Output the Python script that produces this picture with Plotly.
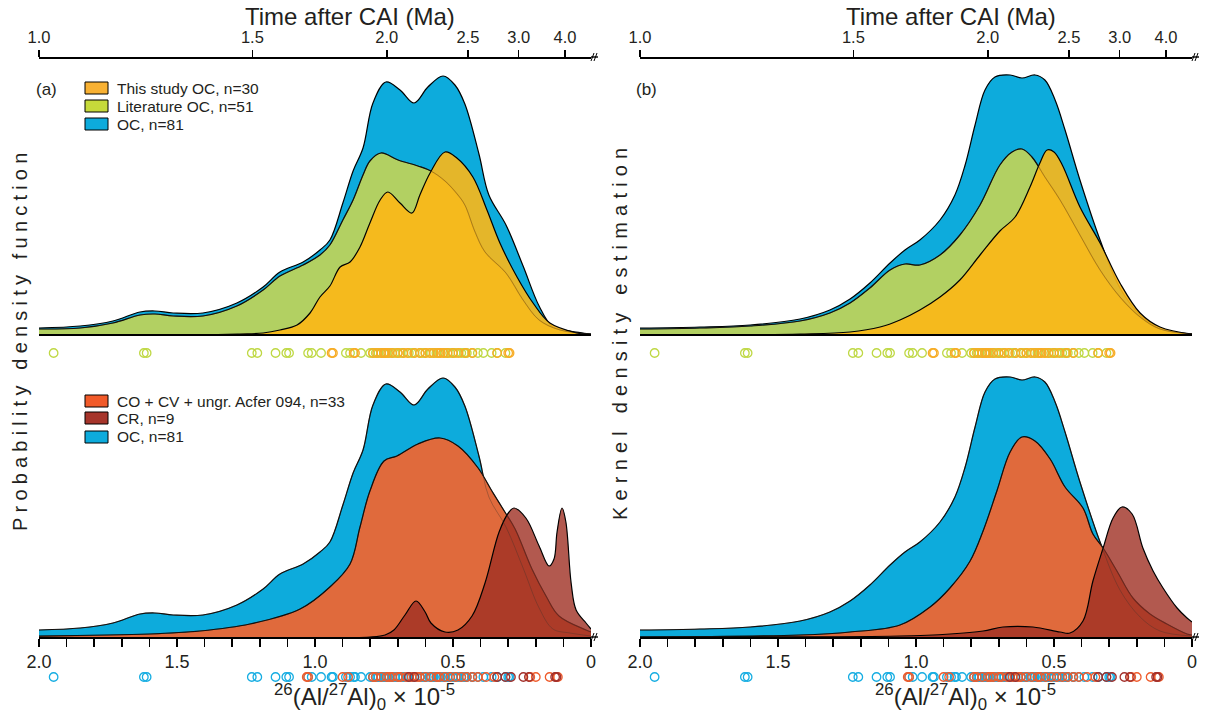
import plotly.graph_objects as go

W, H = 1206, 720

# ---------------- data (x = (26Al/27Al)0 x 1e-5, y = relative density, arbitrary units) ----------------
# (a) probability density functions
pdfA_oc_x = [2.000, 1.851, 1.732, 1.634, 1.580, 1.514, 1.406, 1.283, 1.188, 1.127, 1.043, 0.982, 0.946, 0.899,
             0.862, 0.826, 0.790, 0.743, 0.692, 0.641, 0.591, 0.536, 0.493, 0.457, 0.406, 0.370, 0.308, 0.246,
             0.188, 0.138, 0.076, 0.000]
pdfA_oc_y = [7, 9, 14, 23, 24, 22, 22, 32, 48, 63, 73, 85, 95, 132, 164, 187, 232, 253, 245, 232, 248, 259, 250,
             231, 181, 140, 110, 69, 29, 8, 4, 1]

pdfA_lit_x = [2.000, 1.851, 1.732, 1.634, 1.580, 1.514, 1.406, 1.283, 1.188, 1.127, 1.043, 0.982, 0.946, 0.899,
              0.862, 0.826, 0.801, 0.761, 0.699, 0.627, 0.580, 0.529, 0.482, 0.457, 0.420, 0.384, 0.308, 0.246,
              0.188, 0.112, 0.000]
pdfA_lit_y = [6, 7, 12, 20, 21, 19, 19, 29, 45, 59, 70, 80, 90, 115, 135, 160, 174, 182, 175, 169, 164, 154, 140,
              130, 103, 83, 62, 35, 15, 5, 1]

pdfA_this_x = [2.000, 1.417, 1.272, 1.188, 1.127, 1.065, 1.018, 0.982, 0.946, 0.909, 0.873, 0.837, 0.801, 0.764,
               0.736, 0.692, 0.649, 0.620, 0.583, 0.529, 0.486, 0.428, 0.377, 0.330, 0.268, 0.210, 0.149, 0.051,
               0.000]
pdfA_this_y = [0, 0, 1, 2, 5, 10, 22, 38, 49, 68, 73, 88, 112, 135, 143, 132, 122, 140, 162, 183, 177, 158, 125,
               92, 58, 32, 12, 2, 0]

pdfA_cocv_x = [2.000, 1.598, 1.417, 1.236, 1.054, 0.946, 0.873, 0.837, 0.801, 0.750, 0.703, 0.627, 0.547, 0.482,
               0.409, 0.359, 0.312, 0.275, 0.214, 0.163, 0.116, 0.018, 0.000]
pdfA_cocv_y = [1, 3, 6, 13, 28, 50, 73, 110, 146, 176, 181, 193, 199, 191, 169, 146, 125, 108, 68, 41, 21, 7, 5]

pdfA_cr_x = [2.000, 0.801, 0.746, 0.714, 0.674, 0.634, 0.601, 0.580, 0.529, 0.482, 0.431, 0.384, 0.333, 0.297,
             0.279, 0.236, 0.188, 0.152, 0.134, 0.123, 0.105, 0.091, 0.072, 0.054, 0.018, 0.000]
pdfA_cr_y = [0, 0, 2, 7, 22, 36, 25, 14, 5, 7, 21, 54, 105, 125, 129, 119, 91, 71, 78, 105, 129, 115, 54, 27, 14, 8]

# (b) kernel density estimations
kdeB_oc_x = [2.000, 1.783, 1.601, 1.420, 1.312, 1.239, 1.167, 1.094, 1.040, 0.986, 0.913, 0.859, 0.822, 0.786,
             0.750, 0.714, 0.659, 0.616, 0.569, 0.533, 0.496, 0.460, 0.406, 0.333, 0.261, 0.188, 0.116, 0.000]
kdeB_oc_y = [7, 8, 10, 16, 25, 36, 52, 72, 85, 95, 115, 140, 170, 210, 245, 258, 260, 257, 260, 255, 235, 205,
             155, 95, 47, 20, 6, 1]

kdeB_lit_x = [2.000, 1.783, 1.601, 1.420, 1.312, 1.239, 1.167, 1.094, 1.040, 0.986, 0.913, 0.841, 0.768, 0.696,
              0.652, 0.616, 0.580, 0.533, 0.478, 0.406, 0.333, 0.261, 0.188, 0.116, 0.000]
kdeB_lit_y = [6, 7, 9, 14, 22, 32, 47, 65, 71, 70, 80, 100, 130, 170, 183, 186, 178, 158, 135, 100, 65, 38, 18, 6, 1]

kdeB_this_x = [2.000, 1.420, 1.239, 1.130, 1.058, 0.986, 0.913, 0.841, 0.768, 0.696, 0.641, 0.587, 0.551, 0.525,
               0.500, 0.470, 0.406, 0.333, 0.261, 0.188, 0.116, 0.000]
kdeB_this_y = [0, 1, 3, 8, 15, 25, 38, 55, 80, 104, 118, 148, 172, 185, 183, 170, 128, 92, 52, 22, 8, 1]

kdeB_cocv_x = [2.000, 1.420, 1.239, 1.058, 0.949, 0.877, 0.804, 0.757, 0.707, 0.659, 0.616, 0.569, 0.514, 0.460,
               0.395, 0.359, 0.322, 0.272, 0.214, 0.152, 0.091, 0.018, 0.000]
kdeB_cocv_y = [0, 2, 5, 12, 30, 49, 76, 106, 146, 185, 200, 196, 178, 150, 129, 103, 89, 66, 39, 23, 13, 3, 2]

kdeB_cr_x = [2.000, 1.058, 0.877, 0.757, 0.685, 0.576, 0.478, 0.442, 0.395, 0.359, 0.322, 0.286, 0.254, 0.217,
             0.178, 0.141, 0.105, 0.054, 0.018, 0.000]
kdeB_cr_y = [0, 1, 3, 6, 10, 10, 5, 4, 16, 56, 89, 119, 130, 123, 89, 66, 49, 29, 19, 15]

# individual (26Al/27Al)0 values (x 1e-5)
lit_oc = [1.947, 1.62, 1.61, 1.229, 1.209, 1.143, 1.104, 1.094, 1.025, 1.012, 0.978, 0.888, 0.873, 0.833,
          0.80, 0.79, 0.78, 0.77, 0.76, 0.75, 0.74, 0.73, 0.72, 0.71, 0.70, 0.69, 0.68, 0.66, 0.65, 0.64, 0.62,
          0.61, 0.60, 0.58, 0.57, 0.56, 0.55, 0.53, 0.52, 0.51, 0.50, 0.49, 0.47, 0.46, 0.45, 0.43, 0.41, 0.39,
          0.36, 0.34, 0.31]
this_oc = [0.94, 0.935, 0.86, 0.855, 0.79, 0.775, 0.76, 0.75, 0.745, 0.735, 0.72, 0.70, 0.68, 0.665, 0.64, 0.62,
           0.60, 0.585, 0.57, 0.555, 0.545, 0.535, 0.52, 0.50, 0.48, 0.455, 0.43, 0.34, 0.30, 0.295]
cocv = [1.03, 1.025, 0.90, 0.88, 0.79, 0.78, 0.76, 0.74, 0.73, 0.72, 0.70, 0.69, 0.67, 0.65, 0.63, 0.62, 0.60,
        0.58, 0.56, 0.55, 0.53, 0.51, 0.49, 0.47, 0.45, 0.43, 0.41, 0.38, 0.35, 0.22, 0.20, 0.15, 0.12]
cr = [0.66, 0.64, 0.34, 0.31, 0.29, 0.245, 0.225, 0.13, 0.125]

# top axis: time after CAI (Ma) and the ratio at which each label sits
time_labels = ["1.0", "1.5", "2.0", "2.5", "3.0", "4.0"]
time_tick_ratio = [2.0, 1.227, 0.740, 0.446, 0.262, 0.094]

ratio_ticks = [round(i * 0.1, 1) for i in range(21)]
ratio_labels = {2.0: "2.0", 1.5: "1.5", 1.0: "1.0", 0.5: "0.5", 0.0: "0"}

legend_top = ["This study OC, n=30", "Literature OC, n=51", "OC, n=81"]
legend_bot = ["CO + CV + ungr. Acfer 094, n=33", "CR, n=9", "OC, n=81"]

# ---------------- styles ----------------
FONT = "Liberation Sans, Arial, sans-serif"
TXT = "#231f20"
C_BLUE = "rgb(13,171,220)"
C_GREEN = "rgb(178,208,98)"
C_YEL = "rgba(252,183,22,0.9)"
C_ORG = "rgb(224,106,60)"
C_CR = "rgba(159,48,35,0.8)"
LEG_COL_TOP = ["#f8b133", "#c6da3a", "#0dabdc"]
LEG_COL_BOT = ["#f15a29", "#a6352b", "#0dabdc"]
CIR_GREEN, CIR_YEL, CIR_BLUE, CIR_ORG, CIR_CR = "#bfd844", "#f7ac25", "#16ade2", "#ef5b2b", "#a3302b"


def py(p):  # pixel row -> paper
    return 1 - p / H


def px(p):
    return p / W


fig = go.Figure()

cols = [(39, 591), (640, 1192)]
TOP_BASE, TOP_TOP = 335, 57
BOT_BASE, BOT_TOP = 637, 370

layout = dict(template="none", width=W, height=H, margin=dict(l=0, r=0, t=0, b=0, pad=0),
              paper_bgcolor="white", plot_bgcolor="rgba(0,0,0,0)", showlegend=False,
              font=dict(family=FONT, color=TXT))

for c, (x0, x1) in enumerate(cols):
    dom = [px(x0), px(x1)]
    xt, xb, xtime = 2 * c + 1, 2 * c + 2, 5 + c
    yt, yb, yct, ycb = 2 * c + 1, 2 * c + 2, 5 + 2 * c, 6 + 2 * c
    hidden = dict(range=[2.0, 0.0], domain=dom, showgrid=False, zeroline=False, showticklabels=False,
                  ticks="", showline=False, automargin=False)
    layout[f"xaxis{xt}"] = dict(hidden, anchor=f"y{yt}")
    layout[f"xaxis{xb}"] = dict(range=[2.0, 0.0], domain=dom, anchor=f"y{yb}", showgrid=False, zeroline=False,
                                showline=True, linecolor="black", linewidth=1.6, ticks="outside", ticklen=8,
                                tickwidth=1.5, tickcolor="black", tickvals=ratio_ticks, automargin=False,
                                ticktext=[ratio_labels.get(v, "") for v in ratio_ticks],
                                tickfont=dict(size=18, color=TXT, family=FONT))
    layout[f"xaxis{xtime}"] = dict(range=[2.0, 0.0], domain=dom, anchor="free", overlaying=f"x{xt}",
                                   side="top", position=py(TOP_TOP), showgrid=False, zeroline=False,
                                   showline=True, linecolor="black", linewidth=1.6, ticks="outside", ticklen=7,
                                   tickwidth=1.5, tickcolor="black", tickvals=time_tick_ratio, automargin=False,
                                   ticktext=time_labels, tickfont=dict(size=16.5, color=TXT, family=FONT))
    yhid = dict(showgrid=False, zeroline=False, showticklabels=False, ticks="", showline=False, automargin=False)
    layout[f"yaxis{yt}"] = dict(yhid, domain=[py(TOP_BASE), py(TOP_TOP)], range=[0, TOP_BASE - TOP_TOP],
                                anchor=f"x{xt}")
    layout[f"yaxis{yb}"] = dict(yhid, domain=[py(BOT_BASE), py(BOT_TOP)], range=[0, BOT_BASE - BOT_TOP],
                                anchor=f"x{xb}")
    layout[f"yaxis{yct}"] = dict(yhid, domain=[py(363), py(343)], range=[-1, 1], anchor=f"x{xt}")
    layout[f"yaxis{ycb}"] = dict(yhid, domain=[py(687), py(667)], range=[-1, 1], anchor=f"x{xb}")

fig.update_layout(**layout)


def area(xs, ys, fill, xa, ya, lw=1.2):
    fig.add_trace(go.Scatter(x=xs, y=ys, mode="lines", fill="tozeroy", fillcolor=fill,
                             line=dict(color="black", width=lw, shape="spline", smoothing=1.0),
                             xaxis=xa, yaxis=ya, hoverinfo="skip"))


def ghost(xs, ys, xa, ya):
    fig.add_trace(go.Scatter(x=xs, y=ys, mode="lines",
                             line=dict(color="rgba(60,50,40,0.35)", width=1, shape="spline", smoothing=1.0),
                             xaxis=xa, yaxis=ya, hoverinfo="skip"))


def dots(vals, color, xa, ya):
    fig.add_trace(go.Scatter(x=vals, y=[0] * len(vals), mode="markers",
                             marker=dict(symbol="circle-open", size=8.5, color=color, line=dict(width=1.3)),
                             xaxis=xa, yaxis=ya, hoverinfo="skip"))


panels = [
    dict(top=[(pdfA_oc_x, pdfA_oc_y), (pdfA_lit_x, pdfA_lit_y), (pdfA_this_x, pdfA_this_y)],
         bot=[(pdfA_oc_x, pdfA_oc_y), (pdfA_cocv_x, pdfA_cocv_y), (pdfA_cr_x, pdfA_cr_y)]),
    dict(top=[(kdeB_oc_x, kdeB_oc_y), (kdeB_lit_x, kdeB_lit_y), (kdeB_this_x, kdeB_this_y)],
         bot=[(kdeB_oc_x, kdeB_oc_y), (kdeB_cocv_x, kdeB_cocv_y), (kdeB_cr_x, kdeB_cr_y)]),
]

for c, pnl in enumerate(panels):
    xt, xb = f"x{2 * c + 1}", f"x{2 * c + 2}"
    yt, yb, yct, ycb = f"y{2 * c + 1}", f"y{2 * c + 2}", f"y{5 + 2 * c}", f"y{6 + 2 * c}"
    (ox, oy), (lx, ly), (tx, ty) = pnl["top"]
    area(ox, oy, C_BLUE, xt, yt)
    area(lx, ly, C_GREEN, xt, yt)
    area(tx, ty, C_YEL, xt, yt)
    ghost(lx, ly, xt, yt)
    (ox, oy), (kx, ky), (rx, ry) = pnl["bot"]
    area(ox, oy, C_BLUE, xb, yb)
    area(kx, ky, C_ORG, xb, yb)
    area(rx, ry, C_CR, xb, yb)
    ghost(ox, oy, xb, yb)
    ghost(kx, ky, xb, yb)
    # data points
    dots(lit_oc, CIR_GREEN, xt, yct)
    dots(this_oc, CIR_YEL, xt, yct)
    dots(lit_oc + this_oc, CIR_BLUE, xb, ycb)
    dots(cocv, CIR_ORG, xb, ycb)
    dots(cr, CIR_CR, xb, ycb)
    # invisible trace so the time axis is drawn
    fig.add_trace(go.Scatter(x=[time_tick_ratio[0]], y=[None], mode="markers", xaxis=f"x{5 + c}", yaxis=yt,
                             hoverinfo="skip", marker=dict(opacity=0)))

shapes = []
annotations = []


def note(text, x, y, size, xanchor="center", angle=0):
    annotations.append(dict(text=text, x=px(x), y=py(y), xref="paper", yref="paper", showarrow=False,
                            xanchor=xanchor, yanchor="middle", textangle=angle,
                            font=dict(size=size, family=FONT, color=TXT)))


for c, (x0, x1) in enumerate(cols):
    # baseline of the upper panel
    shapes.append(dict(type="line", xref="paper", yref="paper", x0=px(x0), x1=px(x1), y0=py(TOP_BASE),
                       y1=py(TOP_BASE), line=dict(color="black", width=2.2)))
    # axis breaks
    for yy in (TOP_TOP, BOT_BASE):
        shapes.append(dict(type="line", xref="paper", yref="paper", x0=px(x1), x1=px(x1 + 7), y0=py(yy),
                           y1=py(yy), line=dict(color="black", width=1.4)))
        for dx in (1.5, 4.5):
            shapes.append(dict(type="line", xref="paper", yref="paper", x0=px(x1 + dx - 1.5),
                               x1=px(x1 + dx + 1.5), y0=py(yy + 4), y1=py(yy - 4),
                               line=dict(color="black", width=1)))
    note("Time after CAI (Ma)", x0 + 311, 16, 24)
    note("<sup>26</sup>(Al/<sup>27</sup>Al)<sub>0</sub> × 10<sup>-5</sup>", x0 + 325, 697, 24)
    note(["(a)", "(b)"][c], x0 + 7, 89, 17)

note('<span style="letter-spacing:5.2px">Probability density function</span>', 20, 339, 20, angle=-90)
note('<span style="letter-spacing:6.2px">Kernel density estimation</span>', 620, 331, 20, angle=-90)

for labels, cols_, rows in ((legend_top, LEG_COL_TOP, [88, 106, 124]), (legend_bot, LEG_COL_BOT, [401, 418, 437])):
    for lab, col, r in zip(labels, cols_, rows):
        shapes.append(dict(type="rect", xref="paper", yref="paper", x0=px(85), x1=px(108), y0=py(r + 6),
                           y1=py(r - 6), fillcolor=col, line=dict(color="black", width=1)))
        note(lab, 115, r, 15.5, xanchor="left")

fig.update_layout(shapes=shapes, annotations=annotations)
fig.write_html("out.html", config={"displayModeBar": False, "staticPlot": True},
               post_script="document.body.style.margin='0px';")
